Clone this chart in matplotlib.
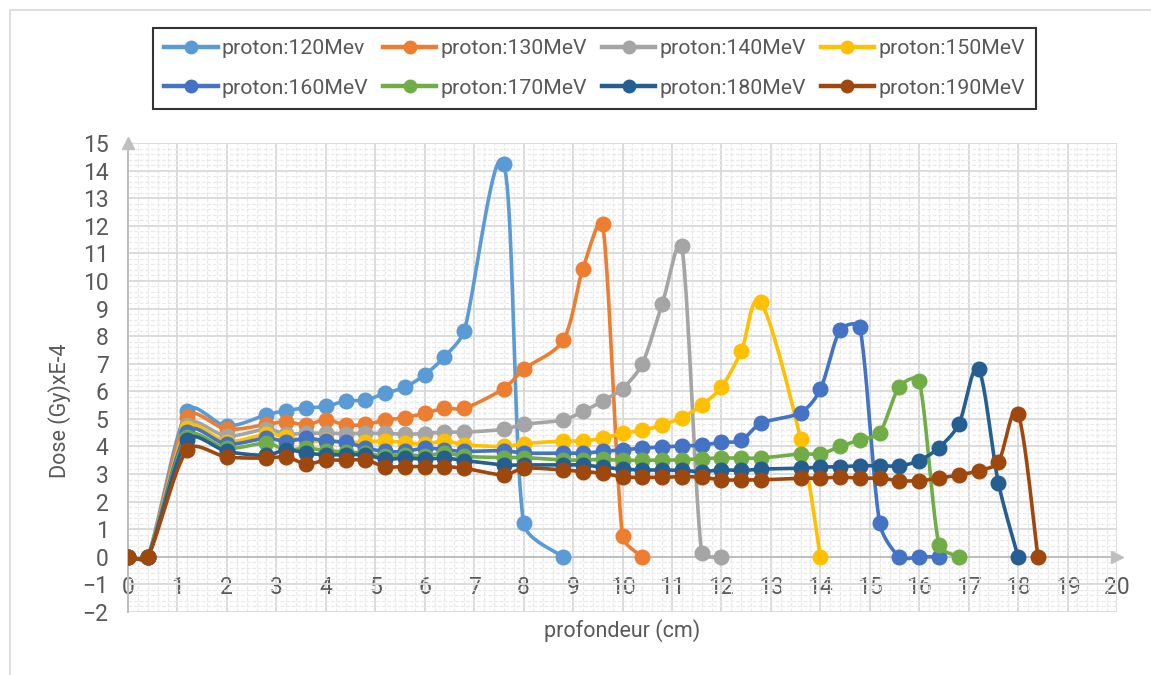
import numpy as np
import matplotlib
matplotlib.use("Agg")
from matplotlib import pyplot as plt
from matplotlib.lines import Line2D
from matplotlib.patches import Rectangle

plt.rcParams['font.family'] = ['Roboto', 'DejaVu Sans']

# depth grid (cm), each series uses the first len(values) points
depth = [0, 0.4, 1.2, 2, 2.8, 3.2, 3.6, 4, 4.4, 4.8, 5.2, 5.6, 6, 6.4, 6.8,
         7.6, 8, 8.8, 9.2, 9.6, 10, 10.4, 10.8, 11.2, 11.6, 12, 12.4, 12.8,
         13.6, 14, 14.4, 14.8, 15.2, 15.6, 16, 16.4, 16.8, 17.2, 17.6, 18, 18.4]

dose_120 = [0, 0, 5.3, 4.75, 5.15, 5.3, 5.4, 5.45, 5.65, 5.68, 5.93, 6.15, 6.6,
            7.25, 8.2, 14.25, 1.22, 0]
dose_130 = [0, 0, 5.08, 4.63, 4.8, 4.9, 4.78, 4.97, 4.78, 4.8, 4.95, 5.05, 5.2,
            5.38, 5.38, 6.1, 6.8, 7.85, 10.45, 12.05, 0.75, 0]
dose_140 = [0, 0, 4.78, 4.38, 4.63, 4.45, 4.48, 4.48, 4.47, 4.48, 4.48, 4.44,
            4.47, 4.52, 4.52, 4.62, 4.8, 4.96, 5.27, 5.65, 6.1, 7.0, 9.15, 11.25,
            0.15, 0]
dose_150 = [0, 0, 4.66, 4.18, 4.45, 4.36, 4.18, 4.22, 4.14, 4.16, 4.2, 4.14,
            4.08, 4.2, 4.06, 4.0, 4.1, 4.2, 4.2, 4.3, 4.48, 4.58, 4.78, 5.05, 5.5,
            6.15, 7.45, 9.22, 4.28, 0]
dose_160 = [0, 0, 4.54, 4.09, 4.3, 4.18, 4.3, 4.2, 4.15, 3.95, 3.82, 3.82, 3.94,
            3.88, 3.82, 3.85, 3.76, 3.76, 3.76, 3.82, 3.88, 3.94, 3.98, 4.02,
            4.05, 4.15, 4.22, 4.84, 5.23, 6.07, 8.22, 8.32, 1.22, 0, 0, 0]
dose_170 = [0, 0, 4.36, 3.94, 4.12, 3.88, 3.94, 3.85, 3.8, 3.76, 3.64, 3.7,
            3.66, 3.76, 3.64, 3.6, 3.6, 3.51, 3.51, 3.53, 3.5, 3.5, 3.5, 3.52,
            3.56, 3.58, 3.58, 3.58, 3.73, 3.73, 4.0, 4.24, 4.5, 6.17, 6.39, 0.43, 0]
dose_180 = [0, 0, 4.24, 3.82, 3.68, 3.88, 3.76, 3.7, 3.7, 3.7, 3.54, 3.58, 3.54,
            3.58, 3.49, 3.33, 3.33, 3.33, 3.33, 3.25, 3.18, 3.15, 3.15, 3.13,
            3.09, 3.15, 3.13, 3.18, 3.21, 3.25, 3.27, 3.3, 3.3, 3.3, 3.49, 3.96,
            4.8, 6.8, 2.69, 0]
dose_190 = [0, 0, 3.88, 3.62, 3.58, 3.62, 3.37, 3.5, 3.5, 3.51, 3.27, 3.27,
            3.27, 3.27, 3.21, 2.97, 3.21, 3.15, 3.09, 3.03, 2.9, 2.88, 2.88, 2.91,
            2.88, 2.79, 2.79, 2.79, 2.85, 2.85, 2.89, 2.85, 2.85, 2.76, 2.76,
            2.85, 2.97, 3.12, 3.43, 5.18, 0]

labels = ["proton:120Mev", "proton:130MeV", "proton:140MeV", "proton:150MeV",
          "proton:160MeV", "proton:170MeV", "proton:180MeV", "proton:190MeV"]
colors = ["#5B9BD5", "#ED7D31", "#A5A5A5", "#FFC000",
          "#4472C4", "#70AD47", "#255E91", "#9E480E"]
series = [dose_120, dose_130, dose_140, dose_150,
          dose_160, dose_170, dose_180, dose_190]

TXT = "#595959"


def smooth(ax, x, y, n=24):
    # Excel-like smoothed line, built in pixel space: bezier segments whose
    # control points follow the neighbour chord, clamped by segment length
    p = ax.transData.transform(np.column_stack([x, y]).astype(float))
    pts = np.vstack([p[0], p, p[-1]])
    t = np.linspace(0, 1, n)[:, None]
    out = []
    for i in range(1, len(pts) - 2):
        p0, p1, p2, p3 = pts[i - 1], pts[i], pts[i + 1], pts[i + 2]
        seg = np.hypot(*(p2 - p1))
        d1, d2 = p2 - p0, p3 - p1
        n1, n2 = np.hypot(*d1), np.hypot(*d2)
        c1 = p1 + (d1 / n1 * min(n1 / 6, seg / 3) if n1 else 0)
        c2 = p2 - (d2 / n2 * min(n2 / 6, seg / 3) if n2 else 0)
        out.append((1 - t) ** 3 * p1 + 3 * (1 - t) ** 2 * t * c1
                   + 3 * (1 - t) * t ** 2 * c2 + t ** 3 * p2)
    return ax.transData.inverted().transform(np.vstack(out))


fig = plt.figure(figsize=(11.51, 6.75), dpi=100)
ax = fig.add_axes([128 / 1151, 1 - 612 / 675, 989 / 1151, 469 / 675])
ax.set_xlim(0, 20)
ax.set_ylim(-2, 15)

# chart area border
fig.patches.append(Rectangle((10 / 1151, -0.1), 1.2, 1 - 10 / 675 + 0.1,
                             transform=fig.transFigure, fill=False,
                             edgecolor="#d9d9d9", lw=1.2))

handles = []
for vals, col, lab in zip(series, colors, labels):
    xs = depth[:len(vals)]
    curve = smooth(ax, xs, vals)
    ax.plot(curve[:, 0], curve[:, 1], color=col, lw=2.6, zorder=3,
            solid_capstyle="round")
    ax.plot(xs, vals, "o", color=col, ms=10.5, zorder=3)
    handles.append(Line2D([], [], color=col, lw=3.2, marker="o", ms=9))

ax.set_xticks(np.arange(0, 21, 1))
ax.set_yticks(np.arange(-2, 16, 1))
ax.set_xticks(np.arange(0, 20.01, 0.2), minor=True)
ax.set_yticks(np.arange(-2, 15.01, 0.2), minor=True)
ax.grid(which="major", color="#d9d9d9", lw=1.3, zorder=0)
ax.grid(which="minor", color="#e9e9e9", lw=0.9, ls=(0, (3, 1.5)), zorder=0)
ax.set_axisbelow(True)

for s in ["top", "right"]:
    ax.spines[s].set_visible(False)
ax.spines["bottom"].set_position(("data", 0))
ax.spines["bottom"].set_color("#bfbfbf")
ax.spines["bottom"].set_linewidth(1.4)
ax.spines["left"].set_color("#bfbfbf")
ax.spines["left"].set_linewidth(1.4)
ax.plot(1, 0, ">", color="#bfbfbf", ms=9, transform=ax.get_yaxis_transform(),
        clip_on=False, zorder=2)
ax.plot(0, 1, "^", color="#bfbfbf", ms=9, transform=ax.get_xaxis_transform(),
        clip_on=False, zorder=2)

ax.tick_params(which="both", length=0)
ax.tick_params(axis="x", labelsize=16.5, colors=TXT, pad=14)
ax.tick_params(axis="y", labelsize=16.5, colors=TXT, pad=14)

ax.set_xlabel("profondeur (cm)", fontsize=15.5, color=TXT)
ax.set_ylabel("Dose (Gy)xE-4", fontsize=15.5, color=TXT)
ax.xaxis.set_label_coords(0.5, -0.015)
ax.yaxis.set_label_coords(-0.058, 0.43)

# legend is filled column by column, so interleave to get row order
order = [0, 4, 1, 5, 2, 6, 3, 7]
leg = fig.legend([handles[i] for i in order], [labels[i] for i in order],
                 ncol=4, loc="center",
                 bbox_to_anchor=(594.5 / 1151, 1 - 68.5 / 675),
                 fontsize=15.3, frameon=True, fancybox=False, edgecolor="black",
                 handlelength=2.5, handletextpad=0.2, columnspacing=0.7,
                 labelspacing=0.95, borderpad=0.55, borderaxespad=0)
leg.get_frame().set_linewidth(1.5)
for t in leg.get_texts():
    t.set_color(TXT)

fig.savefig("out.png", dpi=100)
